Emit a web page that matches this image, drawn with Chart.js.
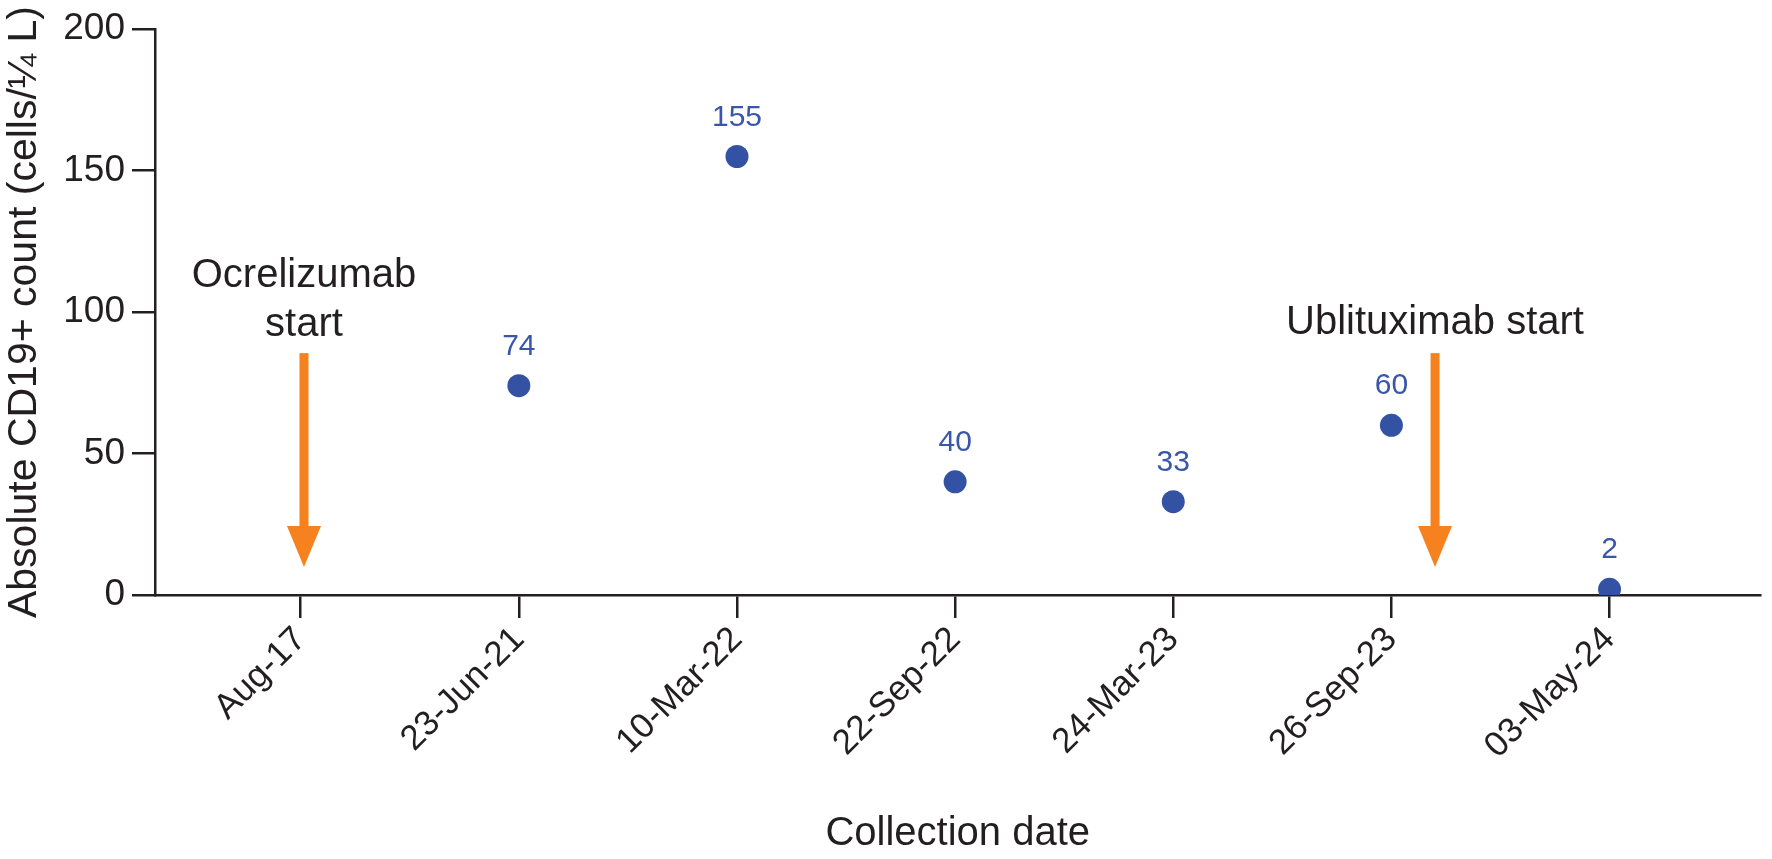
<!DOCTYPE html>
<html>
<head>
<meta charset="utf-8">
<script src="https://cdn.jsdelivr.net/npm/chart.js@4"></script>
<style>
  html, body { margin: 0; padding: 0; background: #ffffff; }
  #wrap { width: 1772px; height: 859px; position: relative; }
</style>
</head>
<body>
<div id="wrap"><canvas id="c"></canvas></div>
<script>
// ---- Data ----
const categories = ['Aug-17', '23-Jun-21', '10-Mar-22', '22-Sep-22', '24-Mar-23', '26-Sep-23', '03-May-24'];
const cd19Counts = [null, 74, 155, 40, 33, 60, 2];
const yTicks = [0, 50, 100, 150, 200];
const eventLabels = [['Ocrelizumab', 'start'], ['Ublituximab start']];
const eventPositions = [0.015, 5.2]; // position along the collection-date axis (category index)

// ---- Styles ----
const FONT = "'Liberation Sans', Arial, Helvetica, sans-serif";
const INK = '#231f20';
const BLUE = '#3452a4';
const LABEL_BLUE = '#3a56a8';
const ORANGE = '#f5821f';

const points = [];
categories.forEach((c, i) => {
  if (cd19Counts[i] !== null) points.push({ x: i, y: cd19Counts[i] });
});

const annotationPlugin = {
  id: 'annotations',
  afterDatasetsDraw(chart) {
    const ctx = chart.ctx;
    const xs = chart.scales.x, ys = chart.scales.y;
    ctx.save();
    // data labels
    ctx.font = '30px ' + FONT;
    ctx.fillStyle = LABEL_BLUE;
    ctx.textAlign = 'center';
    ctx.textBaseline = 'alphabetic';
    points.forEach(p => {
      ctx.fillText(String(p.y), xs.getPixelForValue(p.x), ys.getPixelForValue(p.y) - 31);
    });
    // event arrows
    eventPositions.forEach((ev, k) => {
      const px = xs.getPixelForValue(ev);
      const yTop = ys.getPixelForValue(85.5);
      const yBase = ys.getPixelForValue(24.4);
      const yTip = ys.getPixelForValue(9.9);
      ctx.fillStyle = ORANGE;
      ctx.fillRect(px - 4.5, yTop, 9, yBase - yTop + 1);
      ctx.beginPath();
      ctx.moveTo(px - 17, yBase);
      ctx.lineTo(px + 17, yBase);
      ctx.lineTo(px, yTip);
      ctx.closePath();
      ctx.fill();
      // text
      ctx.fillStyle = INK;
      ctx.font = '40px ' + FONT;
      ctx.textAlign = 'center';
      ctx.textBaseline = 'alphabetic';
      const lines = eventLabels[k];
      const lineVals = lines.length === 2 ? [108.7, 91.6] : [92.4];
      lines.forEach((t, j) => {
        ctx.fillText(t, px, ys.getPixelForValue(lineVals[j]));
      });
    });
    ctx.restore();
  }
};

new Chart(document.getElementById('c'), {
  type: 'scatter',
  data: {
    datasets: [{
      data: points,
      backgroundColor: BLUE,
      borderColor: BLUE,
      borderWidth: 0,
      pointRadius: 11.5,
      pointHoverRadius: 11.5,
      showLine: false
    }]
  },
  options: {
    responsive: true,
    maintainAspectRatio: false,
    devicePixelRatio: 1,
    animation: false,
    events: [],
    layout: { padding: { left: 0, top: 20, right: 0, bottom: 0 } },
    plugins: { legend: { display: false }, tooltip: { enabled: false } },
    scales: {
      x: {
        type: 'linear',
        min: -0.668,
        max: 6.692,
        afterBuildTicks(scale) { scale.ticks = categories.map((c, i) => ({ value: i })); },
        afterFit(scale) { scale.height = 264; },
        ticks: {
          autoSkip: false,
          minRotation: 45,
          maxRotation: 45,
          padding: 1,
          color: INK,
          font: { family: FONT, size: 35 },
          callback: (v) => categories[Math.round(v)]
        },
        grid: { drawOnChartArea: false, drawTicks: true, tickLength: 23, color: INK, lineWidth: 2.5 },
        border: { display: true, color: INK, width: 2.5 },
        title: {
          display: true,
          text: 'Collection date',
          color: INK,
          font: { family: FONT, size: 40 },
          padding: { top: 0, bottom: 1 }
        }
      },
      y: {
        min: 0,
        max: 200,
        afterBuildTicks(scale) { scale.ticks = yTicks.map(v => ({ value: v })); },
        afterFit(scale) { scale.width = 155; },
        ticks: {
          padding: 7,
          color: INK,
          font: { family: FONT, size: 37 }
        },
        grid: { drawOnChartArea: false, drawTicks: true, tickLength: 23, color: INK, lineWidth: 2.5 },
        border: { display: true, color: INK, width: 2.5 },
        title: {
          display: true,
          text: 'Absolute CD19+ count (cells/¼ L)',
          color: INK,
          font: { family: FONT, size: 41 },
          padding: { top: 0, bottom: 0 }
        }
      }
    }
  },
  plugins: [annotationPlugin]
});
</script>
</body>
</html>
